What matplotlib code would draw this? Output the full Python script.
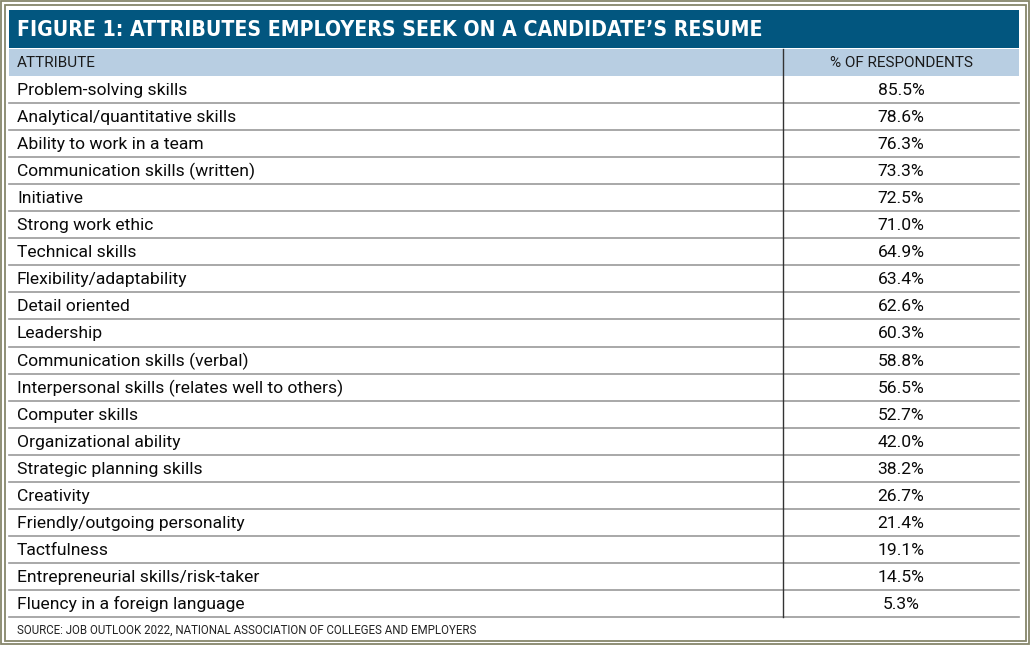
import matplotlib.pyplot as plt
from matplotlib.patches import Rectangle
from matplotlib import font_manager

title = "FIGURE 1: ATTRIBUTES EMPLOYERS SEEK ON A CANDIDATE\u2019S RESUME"
col_headers = ["ATTRIBUTE", "% OF RESPONDENTS"]
attributes = [
    "Problem-solving skills",
    "Analytical/quantitative skills",
    "Ability to work in a team",
    "Communication skills (written)",
    "Initiative",
    "Strong work ethic",
    "Technical skills",
    "Flexibility/adaptability",
    "Detail oriented",
    "Leadership",
    "Communication skills (verbal)",
    "Interpersonal skills (relates well to others)",
    "Computer skills",
    "Organizational ability",
    "Strategic planning skills",
    "Creativity",
    "Friendly/outgoing personality",
    "Tactfulness",
    "Entrepreneurial skills/risk-taker",
    "Fluency in a foreign language",
]
percents = [85.5, 78.6, 76.3, 73.3, 72.5, 71.0, 64.9, 63.4, 62.6, 60.3,
            58.8, 56.5, 52.7, 42.0, 38.2, 26.7, 21.4, 19.1, 14.5, 5.3]
source = "SOURCE: JOB OUTLOOK 2022, NATIONAL ASSOCIATION OF COLLEGES AND EMPLOYERS"

# look for a narrow face for the title, else plain DejaVu
title_font, title_size, title_stretch = "DejaVu Sans", 14, "normal"
for f in font_manager.fontManager.ttflist:
    if f.stretch in ("condensed", "semi-condensed", "extra-condensed") or \
            "Condensed" in f.name or "Narrow" in f.name:
        title_font, title_size, title_stretch = f.name, 15.2, f.stretch
        break

W, H = 1030, 645
fig = plt.figure(figsize=(W / 100, H / 100), dpi=100)
ax = fig.add_axes([0, 0, 1, 1])
ax.set_xlim(0, W)
ax.set_ylim(H, 0)
ax.axis("off")

border = "#86866a"
dark_blue = "#02567f"
light_blue = "#b8cee2"
grid = "#9a9a9a"
body = "Roboto"

# double frame
ax.add_patch(Rectangle((1, 1), W - 2, H - 2, fill=False, ec=border, lw=1.3))
ax.add_patch(Rectangle((4.5, 4.5), W - 9, H - 9, fill=False, ec=border, lw=1.3))

left, right = 9, 1019
div_x = 783

# title band
ax.add_patch(Rectangle((left, 10), right - left, 38, color=dark_blue, lw=0))
ax.text(17, 30.5, title, color="white", fontsize=title_size, fontweight="bold",
        family=title_font, stretch=title_stretch, va="center", ha="left")

# header band
ax.add_patch(Rectangle((left, 49), right - left, 26.5, color=light_blue, lw=0))
ax.text(17, 63, col_headers[0], fontsize=11, family=body, va="center", color="#1a1a1a")
ax.text((div_x + right) / 2, 63, col_headers[1], fontsize=11, family=body,
        va="center", ha="center", color="#1a1a1a")

row_top = 76
row_h = 27.05
for i, (name, val) in enumerate(zip(attributes, percents)):
    y0 = row_top + i * row_h
    yc = y0 + row_h / 2 + 1
    ax.text(17, yc, name, fontsize=12.6, family=body, va="center", color="#0a0a0a")
    ax.text((div_x + right) / 2, yc, f"{val:.1f}%", fontsize=12.6, family=body,
            va="center", ha="center", color="#0a0a0a")
    ax.plot([left, right], [y0 + row_h, y0 + row_h], color=grid, lw=1.2)

ax.plot([div_x, div_x], [49, row_top + len(attributes) * row_h], color="#333333", lw=1)

ax.text(17, 630, source, fontsize=8.3, family=body, va="center", color="#222222")

fig.savefig("out.png", dpi=100)
